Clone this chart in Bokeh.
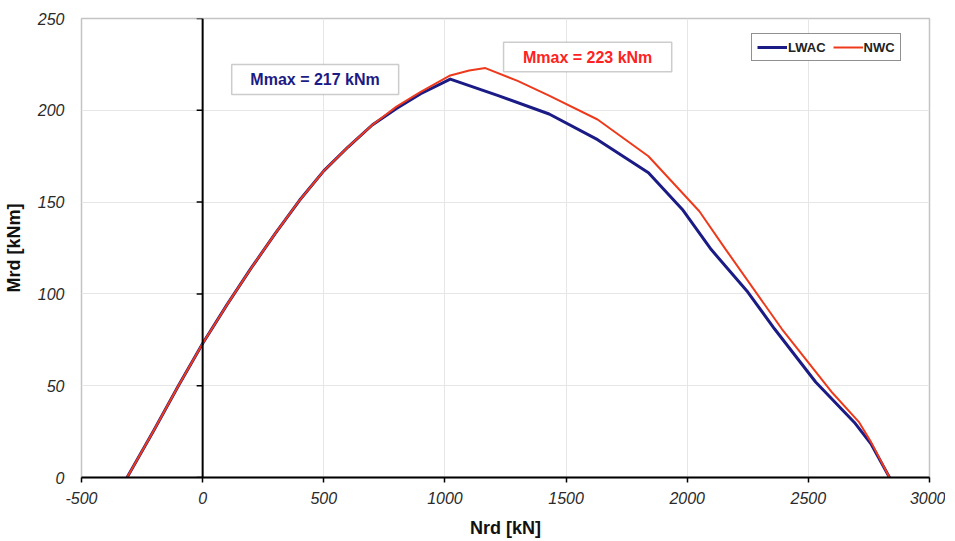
import math
from bokeh.plotting import figure
from bokeh.models import (Range1d, FixedTicker, BoxAnnotation, Label, Span,
                          Legend, LegendItem)
from bokeh.embed import file_html
from bokeh.resources import INLINE

# ---- data ----
lwac_n = [-312, -200, -100, 0, 100, 200, 300, 400, 500, 600, 700, 800, 900, 1022,
          1220, 1430, 1630, 1840, 1980, 2100, 2250, 2360, 2530, 2690, 2760, 2835]
lwac_m = [0, 26, 50, 73, 94, 114, 133, 151, 167, 180, 192, 201, 209, 217,
          208, 198, 184, 166, 146, 124, 101, 81, 52, 30, 18, 0]

nwc_n = [-312, -200, -100, 0, 100, 200, 300, 400, 500, 600, 700, 800, 900, 1022,
         1100, 1167, 1300, 1430, 1630, 1840, 2050, 2160, 2390, 2600, 2710, 2760, 2835]
nwc_m = [0, 26, 50, 73, 94, 114, 133, 151, 167, 180, 192, 202, 210, 219,
         221.7, 223, 216, 208, 195, 175, 145, 124, 81, 46, 30, 19, 0]

x_ticks = [-500, 0, 500, 1000, 1500, 2000, 2500, 3000]
y_ticks = [0, 50, 100, 150, 200, 250]

label_lwac = "Mmax = 217 kNm"
label_nwc = "Mmax = 223 kNm"

FONT = "Liberation Sans"
BLUE = "#1b1b86"
RED = "#ee3a1c"

p = figure(frame_width=848, frame_height=459,
           x_range=Range1d(-500, 3000), y_range=Range1d(0, 250),
           output_backend="svg", toolbar_location=None,
           min_border_left=75, min_border_top=18, min_border_right=16,
           min_border_bottom=10)
p.background_fill_color = "white"
p.border_fill_color = "white"
p.outline_line_color = "#c4c4c4"
p.outline_line_width = 1.5

# grid
p.xgrid.ticker = FixedTicker(ticks=x_ticks)
p.ygrid.ticker = FixedTicker(ticks=y_ticks)
p.xgrid.grid_line_color = "#e6e6e6"
p.ygrid.grid_line_color = "#e6e6e6"

# x axis
xa = p.xaxis[0]
xa.ticker = FixedTicker(ticks=x_ticks)
xa.major_label_overrides = {t: str(t) for t in x_ticks}
xa.axis_line_color = "black"
xa.axis_line_width = 2
xa.major_tick_line_color = "black"
xa.major_tick_line_width = 1.5
xa.major_tick_out = 5
xa.major_tick_in = 0
xa.minor_tick_line_color = None
xa.major_label_text_font = FONT
xa.major_label_text_font_style = "italic"
xa.major_label_text_font_size = "16px"
xa.major_label_text_color = "#2a2a2a"
xa.major_label_standoff = 9
xa.axis_label = "Nrd [kN]"
xa.axis_label_text_font = FONT
xa.axis_label_text_font_style = "bold"
xa.axis_label_text_font_size = "18px"
xa.axis_label_text_color = "#111111"
xa.axis_label_standoff = 11

# y axis (labels only, at the frame edge)
ya = p.yaxis[0]
ya.ticker = FixedTicker(ticks=y_ticks)
ya.axis_line_color = None
ya.major_tick_line_color = None
ya.minor_tick_line_color = None
ya.major_tick_out = 0
ya.major_tick_in = 0
ya.major_label_text_font = FONT
ya.major_label_text_font_style = "italic"
ya.major_label_text_font_size = "16px"
ya.major_label_text_color = "#2a2a2a"
ya.major_label_standoff = 17
ya.axis_label = "Mrd [kNm]"
ya.axis_label_text_font = FONT
ya.axis_label_text_font_style = "bold"
ya.axis_label_text_font_size = "18px"
ya.axis_label_text_color = "#111111"
ya.axis_label_standoff = 11

# vertical axis line at N = 0 with ticks pointing left
p.add_layout(Span(location=0, dimension="height", line_color="black", line_width=2))
p.ray(x=[0] * len(y_ticks), y=y_ticks, length=6, length_units="screen",
      angle=math.pi, line_color="black", line_width=1.5)

# curves
r1 = p.line(lwac_n, lwac_m, line_color=BLUE, line_width=3, line_join="round")
r2 = p.line(nwc_n, nwc_m, line_color=RED, line_width=2, line_join="round")

legend = Legend(items=[LegendItem(label="LWAC", renderers=[r1]),
                       LegendItem(label="NWC", renderers=[r2])],
                orientation="horizontal", location=(670, 416),
                border_line_color="#222222", border_line_width=1,
                background_fill_color="white", background_fill_alpha=1,
                label_text_font=FONT, label_text_font_style="bold",
                label_text_font_size="13px", label_text_color="#222222",
                glyph_width=30, glyph_height=16, label_standoff=1,
                spacing=7, padding=5, margin=0, label_height=16)
p.add_layout(legend, "center")

# annotation boxes
p.add_layout(BoxAnnotation(left=120, right=809, bottom=208.6, top=225,
                           fill_color="white", fill_alpha=1,
                           line_color="#555555", line_width=1.5))
p.add_layout(BoxAnnotation(left=1242, right=1936, bottom=221, top=237,
                           fill_color="white", fill_alpha=1,
                           line_color="#555555", line_width=1.5))
p.add_layout(Label(x=464, y=216.8, text=label_lwac, text_align="center",
                   text_baseline="middle", text_font=FONT, text_font_style="bold",
                   text_font_size="16px", text_color=BLUE))
p.add_layout(Label(x=1589, y=229, text=label_nwc, text_align="center",
                   text_baseline="middle", text_font=FONT, text_font_style="bold",
                   text_font_size="16px", text_color="#ff2222"))

open("out.html", "w").write(file_html(p, INLINE))
